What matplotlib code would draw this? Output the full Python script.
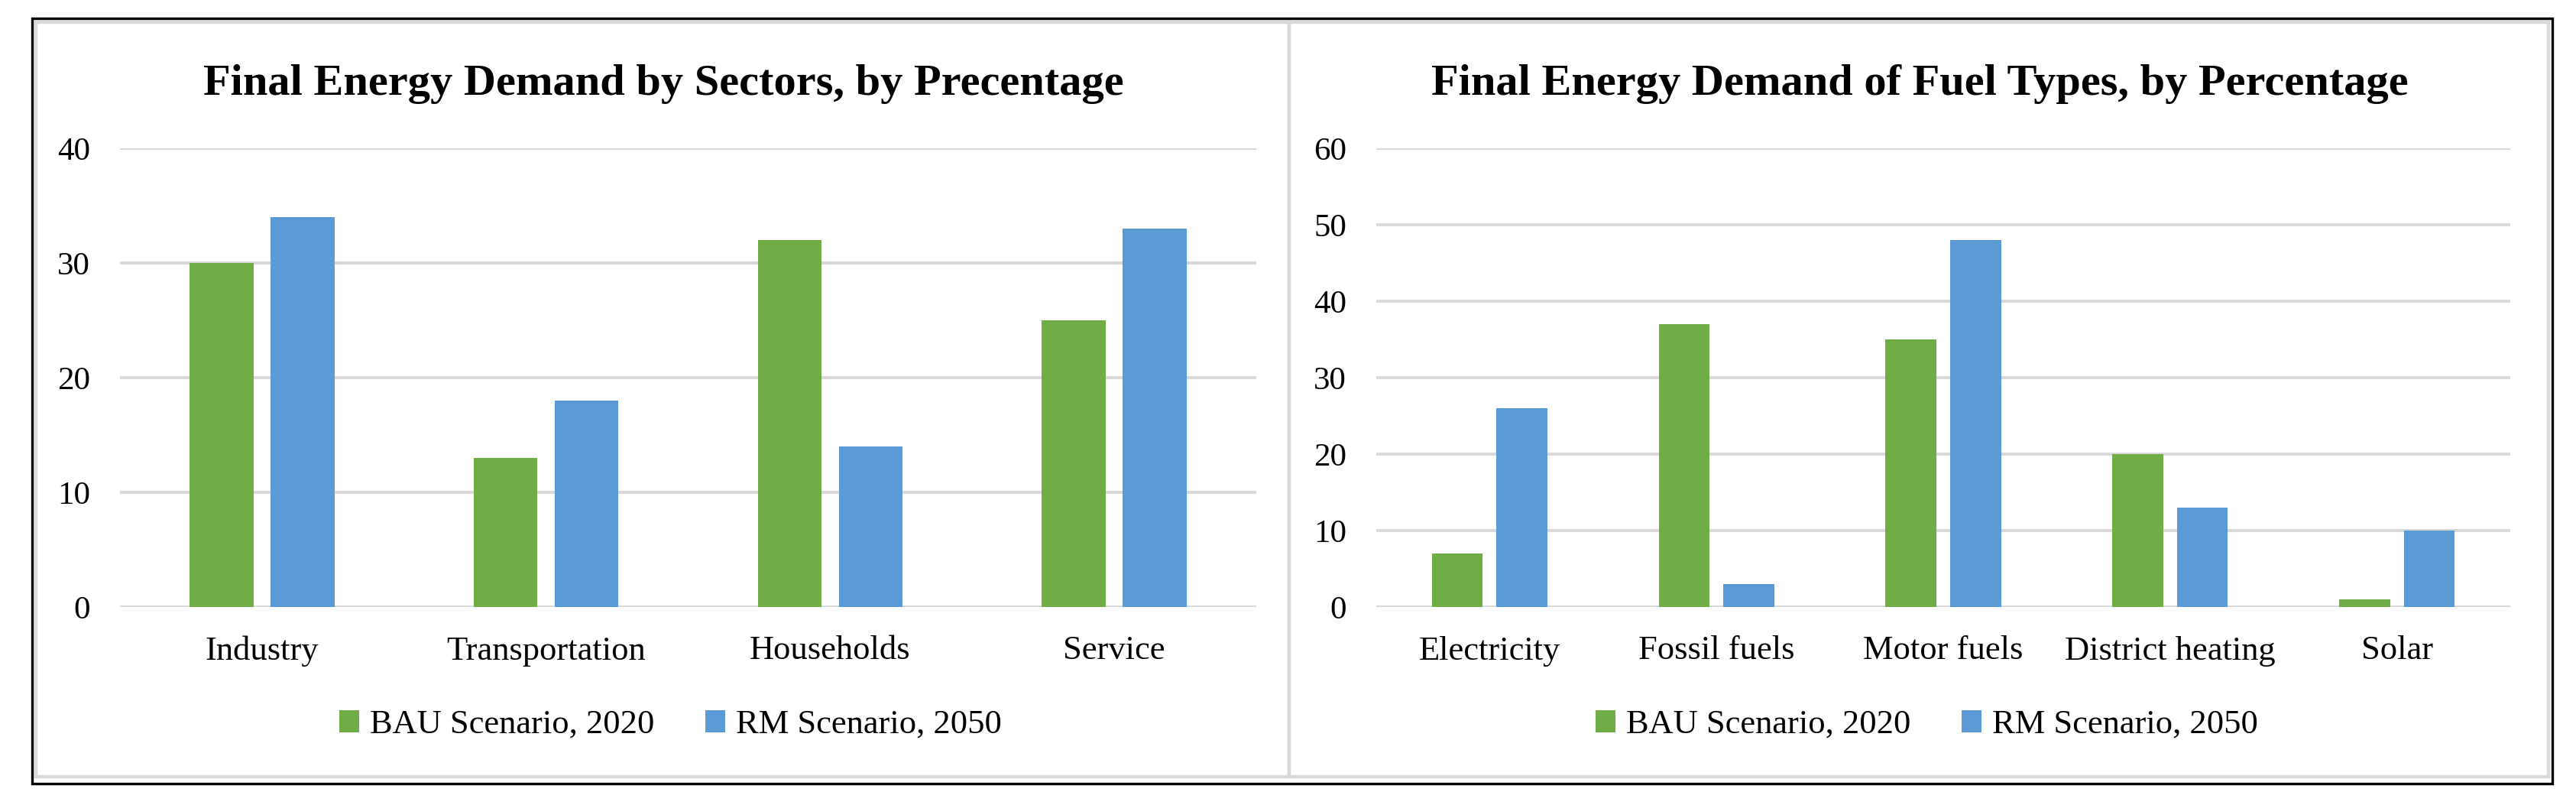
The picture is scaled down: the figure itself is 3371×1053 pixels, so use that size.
import numpy as np
import matplotlib
matplotlib.use("Agg")
import matplotlib.pyplot as plt
from matplotlib.patches import Rectangle, Patch

# data
sectors = ["Industry", "Transportation", "Households", "Service"]
sectors_bau = [30, 13, 32, 25]
sectors_rm = [34, 18, 14, 33]

fuels = ["Electricity", "Fossil fuels", "Motor fuels", "District heating", "Solar"]
fuels_bau = [7, 37, 35, 20, 1]
fuels_rm = [26, 3, 48, 13, 10]

series_names = ["BAU Scenario, 2020", "RM Scenario, 2050"]
titles = ["Final Energy Demand by Sectors, by Precentage",
          "Final Energy Demand of Fuel Types, by Percentage"]

GREEN = "#70AD47"
BLUE = "#5B9BD5"
GRID = "#D9D9D9"
FONT = "Liberation Serif"

W, H = 3371, 1053
fig = plt.figure(figsize=(W / 100, H / 100), dpi=100)


def fx(px):
    return px / W


def fy(py):
    return 1 - py / H


def draw_panel(rect, cats, bau, rm, ymax, title, title_x, legend_x):
    ax = fig.add_axes(rect)
    x = np.arange(len(cats))
    bw = 0.225
    off = 0.1425
    ax.bar(x - off, bau, bw, color=GREEN, zorder=3)
    ax.bar(x + off, rm, bw, color=BLUE, zorder=3)
    ax.set_xlim(-0.5, len(cats) - 0.5)
    ax.set_ylim(0, ymax)
    ax.set_yticks(np.arange(0, ymax + 1, 10))
    ax.yaxis.grid(True, color=GRID, linewidth=3, zorder=0)
    ax.set_axisbelow(True)
    for s in ax.spines.values():
        s.set_visible(False)
    ax.tick_params(axis="both", length=0)
    ax.tick_params(axis="y", pad=28)
    ax.tick_params(axis="x", pad=27)
    ax.set_xticks(x)
    ax.set_xticklabels(cats, fontfamily=FONT, fontsize=32)
    for lab in ax.get_yticklabels():
        lab.set_fontfamily(FONT)
        lab.set_fontsize(31)
    fig.text(fx(title_x), fy(124), title, ha="center", va="baseline",
             fontfamily=FONT, fontsize=42, fontweight="bold")
    handles = [Patch(facecolor=GREEN), Patch(facecolor=BLUE)]
    fig.legend(handles, series_names, loc="center", ncol=2,
               bbox_to_anchor=(fx(legend_x), fy(948)), frameon=False,
               prop={"family": FONT, "size": 32},
               handlelength=0.6, handleheight=0.62, handletextpad=0.3,
               columnspacing=1.5)
    return ax


draw_panel([fx(157), fy(794), fx(1644 - 157), (794 - 194) / H],
           sectors, sectors_bau, sectors_rm, 40, titles[0], 868, 877)
draw_panel([fx(1801), fy(794), fx(3285 - 1801), (794 - 194) / H],
           fuels, fuels_bau, fuels_rm, 60, titles[1], 2512, 2521)

# panel borders (gray) and outer frame (black)
for x0, x1 in [(47, 1687), (1687, 3335)]:
    fig.add_artist(Rectangle((fx(x0), fy(1016)), fx(x1 - x0), (1016 - 29) / H,
                             transform=fig.transFigure, fill=False,
                             edgecolor=GRID, linewidth=3.2))
fig.add_artist(Rectangle((fx(42), fy(1025)), fx(3340 - 42), (1025 - 24) / H,
                         transform=fig.transFigure, fill=False,
                         edgecolor="black", linewidth=2.4))

fig.savefig("out.png", dpi=100)
